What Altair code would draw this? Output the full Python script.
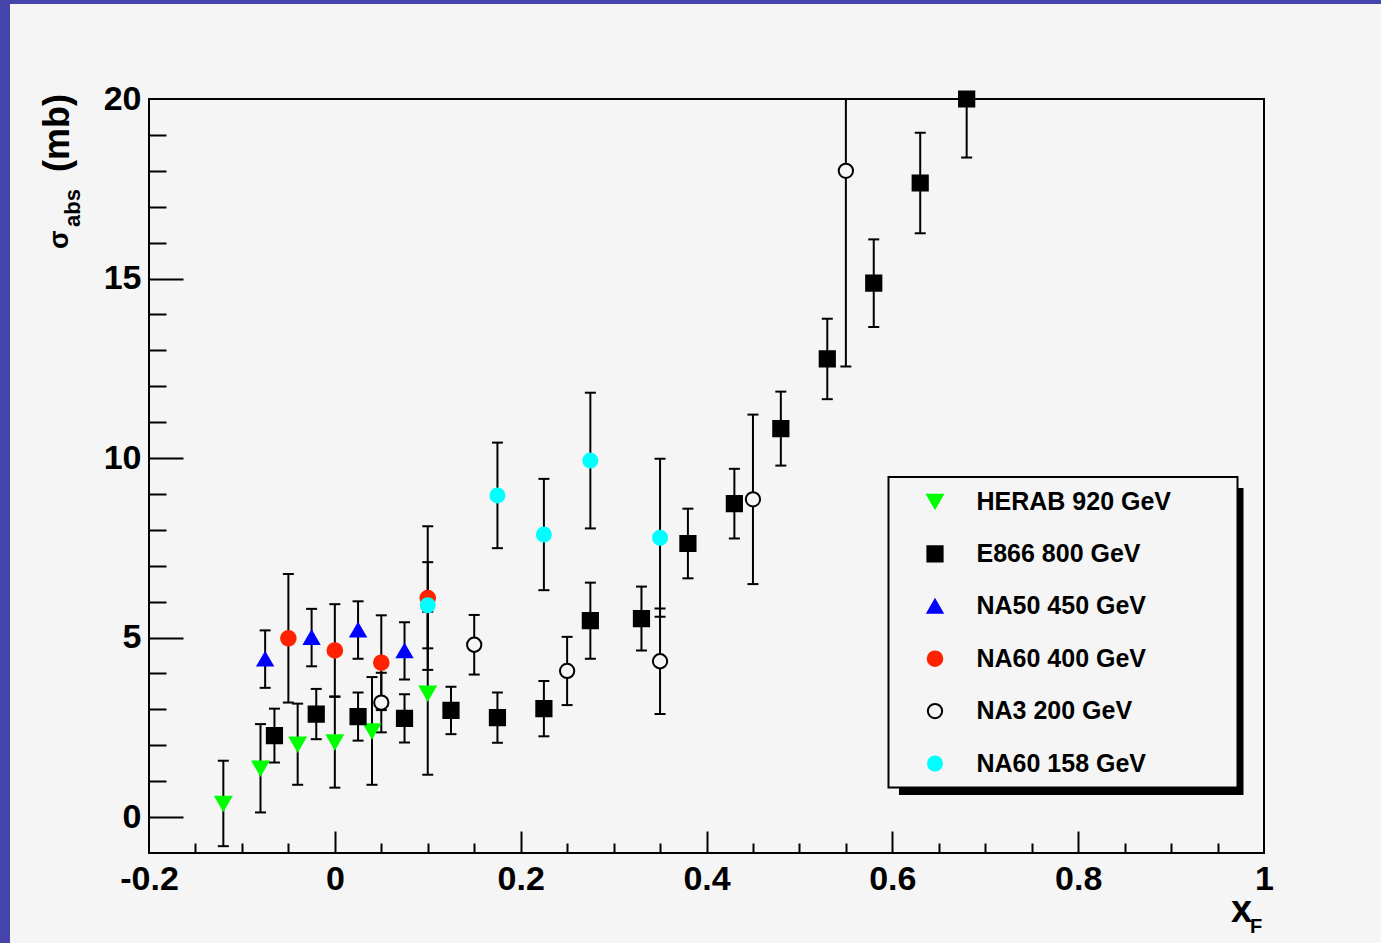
import altair as alt
import pandas as pd

# ---------------- data ----------------
SERIES = ["HERAB 920 GeV", "E866 800 GeV", "NA50 450 GeV",
          "NA60 400 GeV", "NA3 200 GeV", "NA60 158 GeV"]
SHAPES = ["triangle-down", "square", "triangle-up", "circle", "circle", "circle"]
FILLS = ["#00ff00", "#000000", "#0000ff", "#ff2200", "#f5f5f5", "#00ffff"]
STROKES = ["#00ff00", "#000000", "#0000ff", "#ff2200", "#000000", "#00ffff"]
SIZES = [240, 196, 240, 225, 289, 225]

HERAB_X = [-0.12, -0.08, -0.04, 0.0, 0.04, 0.10]
HERAB_Y = [0.38, 1.36, 2.03, 2.09, 2.40, 3.45]
HERAB_E = [1.19, 1.23, 1.13, 1.27, 1.50, 2.27]

E866_X = [-0.065, -0.02, 0.025, 0.075, 0.125, 0.175, 0.225, 0.275,
          0.33, 0.38, 0.43, 0.48, 0.53, 0.58, 0.63, 0.68]
E866_Y = [2.27, 2.87, 2.80, 2.75, 2.97, 2.77, 3.02, 5.47,
          5.53, 7.62, 8.73, 10.82, 12.76, 14.87, 17.66, 20.0]
E866_E = [0.75, 0.70, 0.67, 0.67, 0.66, 0.70, 0.77, 1.06,
          0.89, 0.97, 0.97, 1.03, 1.12, 1.22, 1.40, 1.63]

NA50_X = [-0.075, -0.025, 0.025, 0.075]
NA50_Y = [4.40, 5.00, 5.21, 4.63]
NA50_E = [0.80, 0.80, 0.80, 0.80]

NA60_400_X = [-0.05, 0.0, 0.05, 0.10]
NA60_400_Y = [4.98, 4.64, 4.30, 6.10]
NA60_400_E = [1.79, 1.29, 1.32, 2.00]

NA3_X = [0.05, 0.15, 0.25, 0.35, 0.45, 0.55]
NA3_Y = [3.19, 4.80, 4.07, 4.34, 8.85, 18.0]
NA3_E = [0.83, 0.83, 0.95, 1.47, 2.36, 5.45]

NA60_158_X = [0.10, 0.175, 0.225, 0.275, 0.35]
NA60_158_Y = [5.90, 8.96, 7.87, 9.93, 7.78]
NA60_158_E = [1.20, 1.47, 1.55, 1.89, 2.20]

X_LABEL_TICKS = [-0.2, 0.0, 0.2, 0.4, 0.6, 0.8, 1.0]
Y_LABEL_TICKS = [0, 5, 10, 15, 20]
X_TICKS = [-0.15, -0.1, -0.05, 0.0, 0.05, 0.1, 0.15, 0.2, 0.25, 0.3, 0.35,
           0.4, 0.45, 0.5, 0.55, 0.6, 0.65, 0.7, 0.75, 0.8, 0.85, 0.9, 0.95]
Y_TICKS = [0, 1, 2, 3, 4, 5, 6, 7, 8, 9, 10, 11, 12, 13, 14, 15, 16, 17, 18, 19]

# ---------------- table ----------------
rows = []
for name, xs, ys, es in [
    (SERIES[0], HERAB_X, HERAB_Y, HERAB_E),
    (SERIES[1], E866_X, E866_Y, E866_E),
    (SERIES[2], NA50_X, NA50_Y, NA50_E),
    (SERIES[3], NA60_400_X, NA60_400_Y, NA60_400_E),
    (SERIES[4], NA3_X, NA3_Y, NA3_E),
    (SERIES[5], NA60_158_X, NA60_158_Y, NA60_158_E),
]:
    for x, y, e in zip(xs, ys, es):
        rows.append({"series": name, "x": x, "y": y, "lo": y - e, "hi": y + e})
df = pd.DataFrame(rows)
one = pd.DataFrame({"d": [0]})

W, H = 1115, 754
PL, PT = 149, 99
FONT = "Liberation Sans"
BG = "#f5f5f5"

xscale = alt.Scale(domain=[-0.2, 1.0], nice=False, zero=False)
yscale = alt.Scale(domain=[-1, 20], nice=False, zero=False)

main_x_axis = alt.Axis(orient="bottom", values=X_LABEL_TICKS, ticks=False, tickSize=0,
                       domain=False, grid=False, title=None,
                       labelExpr="'' + (round(datum.value*10)/10)",
                       labelFont=FONT, labelFontWeight="bold", labelFontSize=34,
                       labelColor="black", labelPadding=9, labelFlush=False,
                       labelOverlap=False, labelBound=False, zindex=1)
main_y_axis = alt.Axis(orient="left", values=Y_LABEL_TICKS, ticks=False, tickSize=0,
                       domain=False, grid=False, title=None,
                       labelFont=FONT, labelFontWeight="bold", labelFontSize=34,
                       labelColor="black", labelPadding=8, labelFlush=False,
                       labelOverlap=False, labelBound=False, zindex=1)
tick_x_axis = alt.Axis(orient="top", offset=-H, values=X_TICKS, labels=False,
                       domain=False, grid=False, title=None, ticks=True,
                       tickSize={"condition": {"test": "abs(datum.value*5 - round(datum.value*5)) < 0.01",
                                               "value": 22}, "value": 10},
                       tickWidth=2, tickColor="black", zindex=1)
tick_y_axis = alt.Axis(orient="right", offset=-W, values=Y_TICKS, labels=False,
                       domain=False, grid=False, title=None, ticks=True,
                       tickSize={"condition": {"test": "datum.value % 5 == 0", "value": 34},
                                 "value": 17},
                       tickWidth=2, tickColor="black", zindex=1)

legend = alt.Legend(orient="none", legendX=773.5, legendY=390, title=None, padding=0,
                    labelFont=FONT, labelFontWeight="bold", labelFontSize=25,
                    labelColor="black", labelOffset=29, rowPadding=26.4,
                    symbolStrokeWidth=2, symbolOpacity=1, labelLimit=400)

# ---------------- decorations (frame strips, legend box) ----------------
def rect(x0, x1, y0, y1, **kw):
    return alt.Chart(one).mark_rect(**kw).encode(
        x=alt.value(x0 - PL), x2=alt.value(x1 - PL),
        y=alt.value(y0 - PT), y2=alt.value(y1 - PT))

strip_top = rect(0, 1381, 0, 4, color="#4444aa")
strip_left = rect(0, 10, 0, 943, color="#4444aa")
shadow = rect(899, 1243.5, 488, 795, color="black")
box = rect(888.5, 1237.5, 477, 787.5, fill=BG, stroke="black", strokeWidth=2)

# ---------------- data marks ----------------
rules = alt.Chart(df).mark_rule(clip=True, strokeWidth=2, color="black").encode(
    x=alt.X("x:Q", scale=xscale, axis=tick_x_axis),
    y=alt.Y("lo:Q", scale=yscale, axis=tick_y_axis),
    y2="hi:Q",
)
caps_lo = alt.Chart(df).mark_tick(clip=True, orient="horizontal", size=11, thickness=2,
                                  color="black", opacity=1).encode(
    x=alt.X("x:Q", scale=xscale, axis=None),
    y=alt.Y("lo:Q", scale=yscale, axis=None),
)
caps_hi = alt.Chart(df).mark_tick(clip=True, orient="horizontal", size=11, thickness=2,
                                  color="black", opacity=1).encode(
    x=alt.X("x:Q", scale=xscale, axis=None),
    y=alt.Y("hi:Q", scale=yscale, axis=None),
)
points = alt.Chart(df).mark_point(filled=True, opacity=1, strokeWidth=2).encode(
    x=alt.X("x:Q", scale=xscale, axis=main_x_axis),
    y=alt.Y("y:Q", scale=yscale, axis=main_y_axis),
    shape=alt.Shape("series:N", scale=alt.Scale(domain=SERIES, range=SHAPES), legend=legend),
    fill=alt.Fill("series:N", scale=alt.Scale(domain=SERIES, range=FILLS), legend=legend),
    stroke=alt.Stroke("series:N", scale=alt.Scale(domain=SERIES, range=STROKES), legend=legend),
    size=alt.Size("series:N", scale=alt.Scale(domain=SERIES, range=SIZES), legend=legend),
)

# ---------------- axis titles ----------------
def label(text, px, py, size, angle=0):
    return alt.Chart(one).mark_text(text=text, angle=angle, align="left",
                                    baseline="alphabetic", font=FONT, fontWeight="bold",
                                    fontSize=size, color="black").encode(
        x=alt.value(px - PL), y=alt.value(py - PT))

t_sigma = label("σ", 68, 249, 27, angle=270)
t_abs = label("abs", 80, 227, 22, angle=270)
t_mb = label("(mb)", 69, 172, 36, angle=270)
t_x = label("x", 1231, 922, 38)
t_f = label("F", 1250, 933, 20)

chart = alt.layer(
    strip_top, strip_left, shadow, box,
    rules, caps_lo, caps_hi, points,
    t_sigma, t_abs, t_mb, t_x, t_f,
).resolve_axis(x="independent", y="independent").properties(
    width=W, height=H,
    autosize=alt.AutoSizeParams(type="none"),
    padding={"left": PL, "top": PT, "right": 1381 - PL - W, "bottom": 943 - PT - H},
).configure(background=BG).configure_view(stroke="black", strokeWidth=2)

chart.save("out.html", embed_options={"renderer": "svg", "actions": False})
